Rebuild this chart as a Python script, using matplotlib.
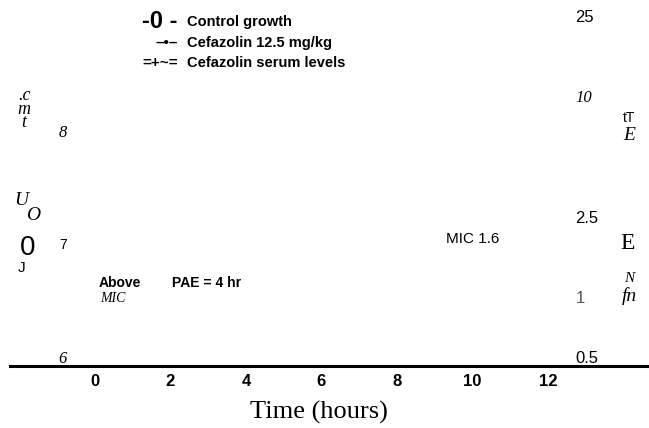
import numpy as np
import matplotlib.pyplot as plt

# values
horas = [0, 2, 4, 6, 8, 10, 12]
log_ufc = [1e6, 1e7, 1e8]
log_ufc_labels = ['6', '7', '8']
suero = [0.5, 1, 2.5, 10, 25]
suero_labels = ['0.5', '1', '2.5', '10', '25']
mic = 1.6

leyenda = ['Control growth', 'Cefazolin 12.5 mg/kg', 'Cefazolin serum levels']
simbolos = ['-0 -', '–•–', '=+~=']

fig = plt.figure(figsize=(6.49, 4.28), dpi=100)
ax = fig.add_axes([10/649, 62/428, 639/649, 366/428])
ax.set_xlim(-2.25, 14.68)
ax.set_yscale('log')
ax.set_ylim(10**5.92, 10**9.16)
for s in ['top', 'left', 'right']:
	ax.spines[s].set_visible(False)
ax.spines['bottom'].set_linewidth(2.2)

ax.set_xticks(horas)
ax.set_xticklabels([str(h) for h in horas], fontfamily='Liberation Sans', fontweight='bold', fontsize=12)
ax.tick_params(axis='x', length=0, pad=6)

ax.set_yticks(log_ufc)
ax.set_yticklabels(log_ufc_labels)
ax.yaxis.set_minor_locator(plt.NullLocator())
ax.tick_params(axis='y', length=0, pad=-41)
for t in ax.get_yticklabels():
	if t.get_text() == '7':
		t.set_fontfamily('Liberation Sans'); t.set_fontsize(10)
	else:
		t.set_fontfamily('Liberation Serif'); t.set_fontstyle('italic'); t.set_fontsize(12)

ax2 = ax.twinx()
ax2.set_yscale('log')
ax2.set_ylim(10**-0.346, 10**1.478)
for s in ['top', 'left', 'right', 'bottom']:
	ax2.spines[s].set_visible(False)
ax2.set_yticks(suero)
ax2.set_yticklabels(suero_labels)
ax2.yaxis.set_minor_locator(plt.NullLocator())
ax2.tick_params(axis='y', length=0, pad=-53)
for t in ax2.get_yticklabels():
	t.set_horizontalalignment('left')
	txt = t.get_text()
	if txt == '10':
		t.set_fontfamily('Liberation Serif'); t.set_fontstyle('italic'); t.set_fontsize(12)
	elif txt == '1':
		t.set_fontfamily('Liberation Sans'); t.set_fontsize(12); t.set_color('#555555')
	else:
		t.set_fontfamily('Liberation Sans'); t.set_fontsize(12)

ax.set_xlabel('Time (hours)', fontfamily='Liberation Serif', fontsize=19)
ax.xaxis.set_label_coords(0.484, -0.095)

# legend drawn as text
for i, (sym, lab) in enumerate(zip(simbolos, leyenda)):
	y = 1 - (22 + 20.5*i)/428
	fig.text(178/649, y, sym, ha='right', va='center', fontfamily='Liberation Sans',
	         fontweight='bold', fontsize=17 if i == 0 else 11)
	fig.text(187/649, y, lab, ha='left', va='center', fontfamily='Liberation Sans',
	         fontweight='bold', fontsize=10.5)

# annotations
ax2.text(9.3, mic*1.12, 'MIC 1.6', fontfamily='Liberation Sans', fontsize=11, va='bottom')
ax.text(0.1, 10**6.62, 'Above', fontfamily='Liberation Sans', fontweight='bold', fontsize=10)
ax.text(0.15, 10**6.49, 'MIC', fontfamily='Liberation Serif', fontstyle='italic', fontsize=10)
ax.text(2.05, 10**6.62, 'PAE = 4 hr', fontfamily='Liberation Sans', fontweight='bold', fontsize=10)

# garbled axis title fragments
fig.text(24/649, 1 - 109/428, '.c\nm\nt', ha='center', va='center', fontfamily='Liberation Serif',
         fontstyle='italic', fontsize=13, linespacing=0.75)
fig.text(21/649, 1 - 200/428, 'U', ha='center', va='center', fontfamily='Liberation Serif',
         fontstyle='italic', fontsize=14)
fig.text(33/649, 1 - 215/428, 'O', ha='center', va='center', fontfamily='Liberation Serif',
         fontstyle='italic', fontsize=14)
fig.text(28/649, 1 - 248/428, '0', ha='center', va='center', fontfamily='Liberation Sans', fontsize=20)
fig.text(22/649, 1 - 268/428, 'J', ha='center', va='center', fontfamily='Liberation Sans', fontsize=11)
fig.text(629/649, 1 - 118/428, 'tT', ha='center', va='center', fontfamily='Liberation Sans', fontsize=10)
fig.text(629/649, 1 - 136/428, 'E', ha='center', va='center', fontfamily='Liberation Serif',
         fontstyle='italic', fontsize=14)
fig.text(628/649, 1 - 243/428, 'E', ha='center', va='center', fontfamily='Liberation Serif', fontsize=17)
fig.text(629/649, 1 - 279/428, 'N', ha='center', va='center', fontfamily='Liberation Serif',
         fontstyle='italic', fontsize=11)
fig.text(629/649, 1 - 296/428, 'fn', ha='center', va='center', fontfamily='Liberation Serif',
         fontstyle='italic', fontsize=14)

plt.savefig('out.png', dpi=100)
